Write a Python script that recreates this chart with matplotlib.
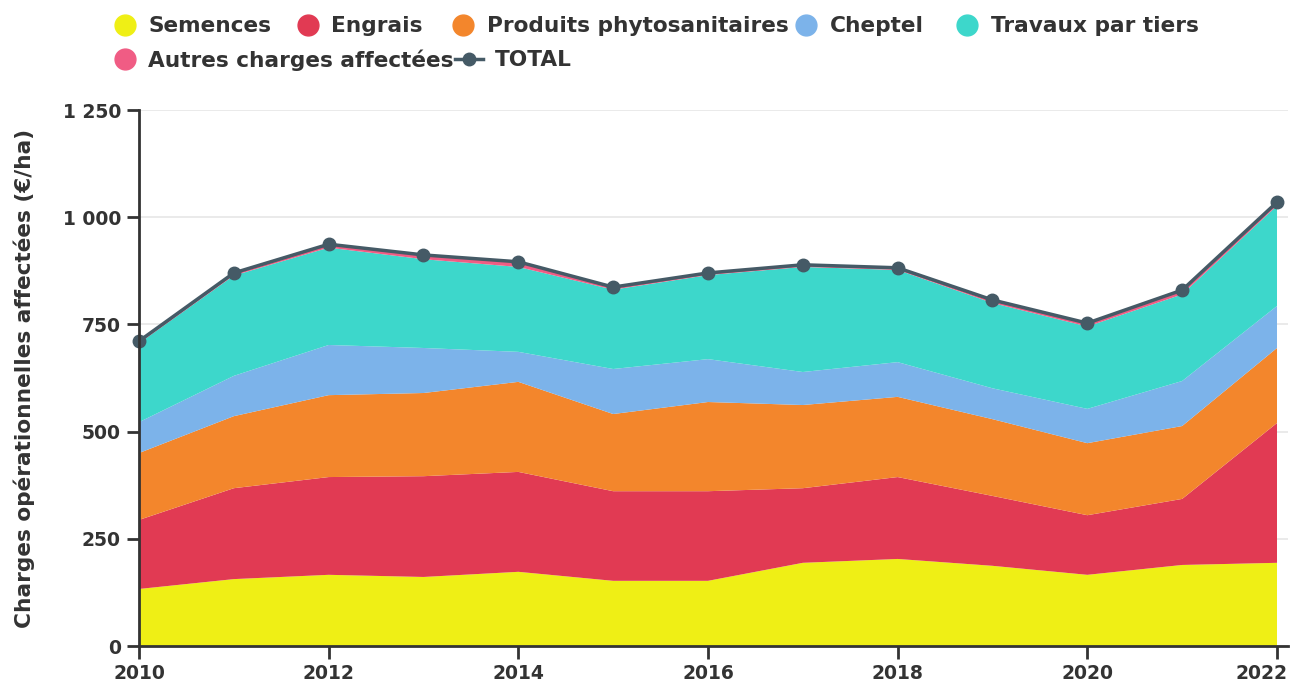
import matplotlib
matplotlib.use("Agg")
import matplotlib.pyplot as plt
from matplotlib.lines import Line2D
from matplotlib.transforms import ScaledTranslation
import numpy as np

plt.rcParams["font.family"] = "DejaVu Sans"
plt.rcParams["font.weight"] = "bold"

years = list(range(2010, 2023))
semences = [133, 156, 166, 161, 173, 152, 152, 194, 203, 187, 166, 189, 194]
engrais = [161, 212, 228, 235, 233, 209, 209, 174, 191, 163, 139, 154, 326]
phyto = [156, 168, 191, 194, 210, 180, 208, 194, 187, 179, 168, 170, 175]
cheptel = [72, 94, 117, 105, 70, 105, 100, 77, 81, 72, 80, 105, 98]
travaux = [184, 234, 227, 207, 198, 185, 196, 245, 215, 199, 192, 202, 234]
autres = [5, 6, 8, 10, 12, 6, 5, 5, 5, 7, 8, 10, 8]

names = ["Semences", "Engrais", "Produits phytosanitaires", "Cheptel",
         "Travaux par tiers", "Autres charges affectées"]
colors = ["#EFEF15", "#E13A53", "#F3862C", "#7CB3EA", "#3DD7CB", "#F05C84"]
TOTAL_C = "#455A66"
DARK = "#333333"

series = [semences, engrais, phyto, cheptel, travaux, autres]
total = np.sum(series, axis=0)

W, H = 1290, 684
fig = plt.figure(figsize=(W / 100, H / 100), dpi=100)
ax = fig.add_axes([139 / W, 1 - 646 / H, (1288 - 139) / W, (646 - 110) / H])

ax.stackplot(years, *series, colors=colors, linewidth=0)
ax.plot(years, total, color=TOTAL_C, lw=2.5, marker="o", ms=9, zorder=5, clip_on=False)

ax.set_xlim(2010, 2022 + 11 / 94.8)
ax.set_ylim(0, 1250)
ax.set_yticks([0, 250, 500, 750, 1000, 1250])
ax.set_yticklabels(["0", "250", "500", "750", "1 000", "1 250"])
ax.set_xticks(range(2010, 2023, 2))
ax.yaxis.grid(True, color="#E6E6E6", lw=1.2)
ax.set_axisbelow(True)
for s in ["top", "right"]:
    ax.spines[s].set_visible(False)
for s in ["left", "bottom"]:
    ax.spines[s].set_color(DARK)
    ax.spines[s].set_linewidth(2)
    ax.spines[s].set_zorder(6)
ax.tick_params(axis="both", colors=DARK, width=2, length=9, labelsize=13.5, pad=4)
for lab in ax.get_xticklabels() + ax.get_yticklabels():
    lab.set_fontweight("bold")
# keep the last year label inside the figure, as in the original
last = ax.get_xticklabels()[-1]
last.set_horizontalalignment("right")
last.set_transform(last.get_transform() + ScaledTranslation(0.11, 0, fig.dpi_scale_trans))
ax.set_ylabel("Charges opérationnelles affectées (€/ha)", fontsize=15.6,
              fontweight="bold", color=DARK, labelpad=20)

# legend drawn by hand to follow the flowing layout of the original
row1 = [(0, 125, 148), (1, 308, 331), (2, 463, 487), (3, 806, 830), (4, 967, 991)]
for i, mx, tx in row1:
    fig.add_artist(Line2D([mx / W], [1 - 25 / H], marker="o", ms=15, color=colors[i],
                          ls="none", transform=fig.transFigure))
    fig.text(tx / W, 1 - 26 / H, names[i], fontsize=15.6, fontweight="bold",
             color=DARK, va="center")
fig.add_artist(Line2D([125 / W], [1 - 59 / H], marker="o", ms=15, color=colors[5],
                      ls="none", transform=fig.transFigure))
fig.text(148 / W, 1 - 60 / H, names[5], fontsize=15.6, fontweight="bold", color=DARK, va="center")
fig.add_artist(Line2D([455 / W, 483 / W], [1 - 59 / H] * 2, lw=2.5,
                      color=TOTAL_C, transform=fig.transFigure))
fig.add_artist(Line2D([469 / W], [1 - 59 / H], marker="o", ms=9, color=TOTAL_C,
                      ls="none", transform=fig.transFigure))
fig.text(495 / W, 1 - 60 / H, "TOTAL", fontsize=15.6, fontweight="bold", color=DARK, va="center")

fig.savefig("out.png", dpi=100)
